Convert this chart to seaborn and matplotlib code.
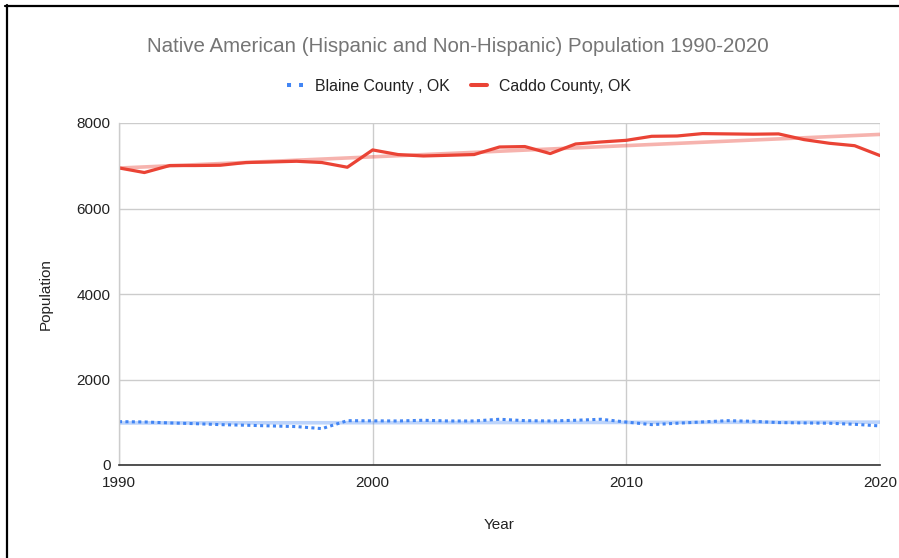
import numpy as np
import pandas as pd
import matplotlib
matplotlib.use("Agg")
import matplotlib.pyplot as plt
from matplotlib.lines import Line2D
import seaborn as sns

years = list(range(1990, 2021))
blaine = [1014, 1007, 984, 967, 944, 930, 914, 898, 851, 1037, 1033,
          1030, 1046, 1030, 1030, 1070, 1037, 1030, 1046, 1070, 1004,
          944, 977, 1007, 1037, 1022, 992, 984, 977, 952, 914]
caddo = [6949, 6841, 7005, 7005, 7012, 7075, 7089, 7105, 7075, 6965, 7370,
         7262, 7229, 7245, 7262, 7439, 7449, 7285, 7509, 7556, 7595,
         7689, 7696, 7752, 7745, 7738, 7745, 7612, 7526, 7469, 7238]
series_names = ["Blaine County , OK", "Caddo County, OK"]
title = "Native American (Hispanic and Non-Hispanic) Population 1990-2020"
x_ticks = [1990, 2000, 2010, 2020]
y_ticks = [0, 2000, 4000, 6000, 8000]

BLUE = "#4285f4"
RED = "#ea4335"

df = pd.DataFrame({"Year": years, "Blaine": blaine, "Caddo": caddo})

sns.set_theme(style="white")
plt.rcParams["font.family"] = ["Liberation Sans", "DejaVu Sans"]

fig = plt.figure(figsize=(8.99, 5.58), dpi=100)
ax = fig.add_axes([119 / 899, 1 - 465 / 558, (880 - 119) / 899, (465 - 123) / 558])

# linear trendlines
sns.regplot(data=df, x="Year", y="Blaine", ax=ax, scatter=False, ci=None,
            line_kws=dict(color=BLUE, alpha=0.35, lw=2.6, solid_capstyle="butt"))
sns.regplot(data=df, x="Year", y="Caddo", ax=ax, scatter=False, ci=None,
            line_kws=dict(color=RED, alpha=0.4, lw=2.6, solid_capstyle="butt"))

# data series
sns.lineplot(data=df, x="Year", y="Blaine", ax=ax, color=BLUE, lw=2.2,
             dashes=False)
ax.lines[-1].set_linestyle((0, (1, 1.1)))
ax.lines[-1].set_dash_capstyle("butt")
sns.lineplot(data=df, x="Year", y="Caddo", ax=ax, color=RED, lw=2.3)

ax.set_xlim(1990, 2020)
ax.set_ylim(0, 8000)
ax.set_xticks(x_ticks)
ax.set_yticks(y_ticks)
ax.set_xticklabels([str(t) for t in x_ticks], fontsize=11, color="#222222")
ax.set_yticklabels([str(t) for t in y_ticks], fontsize=11, color="#222222")
ax.tick_params(axis="y", length=0, pad=6)
ax.tick_params(axis="x", length=0, pad=8)

ax.grid(True, color="#cccccc", lw=1)
ax.set_axisbelow(True)
for side in ["top", "right"]:
    ax.spines[side].set_visible(False)
ax.spines["left"].set_color("#cccccc")
ax.spines["left"].set_linewidth(1)
ax.spines["bottom"].set_color("#333333")
ax.spines["bottom"].set_linewidth(1.2)

ax.set_xlabel("Year", fontsize=11, color="#222222", labelpad=20)
ax.set_ylabel("Population", fontsize=11, color="#222222", labelpad=17)

fig.text(458 / 899, 1 - 46 / 558, title, ha="center", va="center",
         fontsize=14.8, color="#757575")

handles = [
    Line2D([0], [0], color=BLUE, lw=2.9, linestyle=(0, (1, 2)),
           dash_capstyle="butt"),
    Line2D([0], [0], color=RED, lw=2.9),
]
fig.legend(handles, series_names, loc="center", ncol=2, frameon=False,
           bbox_to_anchor=(459 / 899, 1 - 86 / 558), fontsize=11.4,
           handlelength=1.0, handletextpad=0.75, columnspacing=1.35,
           labelcolor="#222222")

# screenshot frame lines along the top and left edges
fig.add_artist(Line2D([5 / 899, 1], [1 - 5.7 / 558, 1 - 5.7 / 558],
                      color="black", lw=1.6, transform=fig.transFigure))
fig.add_artist(Line2D([6.7 / 899, 6.7 / 899], [0, 1 - 5 / 558],
                      color="black", lw=1.6, transform=fig.transFigure))

fig.savefig("out.png", dpi=100, facecolor="white")
